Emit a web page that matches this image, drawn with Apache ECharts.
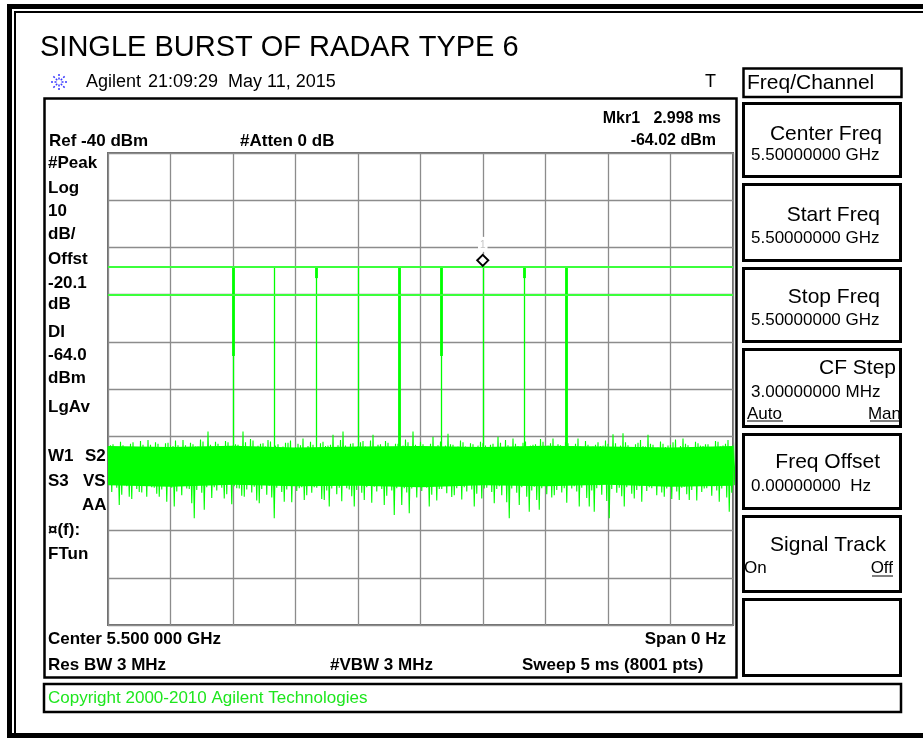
<!DOCTYPE html>
<html>
<head>
<meta charset="utf-8">
<title>Single burst of radar type 6</title>
<script src="https://cdn.jsdelivr.net/npm/echarts@6/dist/echarts.min.js"></script>
<style>
  html, body { margin: 0; padding: 0; background: #fff; }
  #chart { width: 923px; height: 738px; }
</style>
</head>
<body>
<div id="chart"></div>
<script>
// zero span sweep, 5 ms, Ref -40 dBm, 10 dB/div
const sweepMs = 5;
const xStep = 0.5;          // ms per division
const yMin = -140, yMax = -40, yStep = 10;

const displayLine = -64.0;   // DI
const levelLine = -70.0;
const marker = [2.998, -64.02];

// pulses of the burst (ms) and where the trace tops out
const pulseTimes = [1.0, 1.333, 1.667, 2.0, 2.333, 2.667, 2.998, 3.333, 3.667];
const pulsePeaks = [-64.3, -64.2, -64.3, -64.2, -64.1, -64.2, -64.02, -64.3, -64.2];
// thick (double) part of each pulse, from peak down to this level
const pulseThickTo = [-83.0, null, -66.5, null, -103.0, -83.0, null, -66.5, -103.0];
const pulseFoot = -103.0;

// noise trace, read in 0.04 ms columns; four samples per column:
// hi at t, lo at t+0.01, hiB at t+0.02, loB at t+0.03
const noiseStep = 0.04;
const noiseHi = [
  -102.2, -101.7, -102.6, -101.9, -102.4, -101.3, -102.8, -101.8, -100.8, -102.3,
  -101.6, -102.9, -101.4, -102.1, -101.9, -100.8, -102.5, -101.7, -102.2, -101.1,
  -99.0, -102.4, -101.6, -102.7, -101.3, -102.0, -101.8, -99.0, -102.3, -100.9,
  -102.0, -101.5, -100.8, -102.6, -101.7, -102.2, -101.4, -102.8, -101.6, -100.5,
  -102.1, -101.8, -102.5, -101.2, -102.0, -99.7, -101.9, -99.0, -102.4, -101.5,
  -102.1, -101.0, -102.6, -99.7, -101.8, -102.3, -101.4, -102.7, -101.6, -102.0,
  -101.3, -99.0, -102.2, -101.7, -102.5, -100.1, -101.9, -102.4, -99.5, -101.8,
  -102.2, -101.3, -102.6, -101.7, -102.0, -101.5, -102.8, -101.6, -100.1, -102.3,
  -101.9, -100.5, -102.1, -101.4, -102.6, -101.8, -102.3, -101.2, -102.0, -100.5,
  -101.7, -102.4, -101.5, -102.1, -100.5, -102.6, -101.8, -102.2, -101.3, -102.0,
  -101.6, -99.6, -102.3, -99.4, -101.9, -102.5, -101.4, -102.1, -99.7, -101.8,
  -102.4, -101.6, -102.0, -101.3, -102.7, -100.5, -101.9, -102.3, -101.5, -102.1,
  -101.7, -102.5, -101.2, -102.0, -100.8, -101.9
];
const noiseLo = [
  -110.2, -109.6, -114.6, -110.4, -112.8, -109.9, -111.8, -110.3, -109.8, -110.9,
  -112.8, -110.1, -109.7, -114.9, -110.5, -110.0, -111.2, -117.4, -110.3, -115.6,
  -109.9, -110.8, -110.2, -113.2, -109.8, -110.6, -111.1, -112.8, -110.0, -110.7,
  -114.2, -109.9, -110.5, -117.4, -110.2, -113.9, -110.4, -109.7, -111.0, -113.5,
  -110.3, -110.8, -109.9, -113.5, -114.9, -110.2, -110.9, -109.8, -111.3, -114.9,
  -110.4, -113.5, -110.1, -110.7, -109.9, -114.6, -110.5, -116.7, -110.2, -111.0,
  -116.3, -110.1, -109.8, -110.6, -114.9, -110.3, -111.2, -109.9, -110.5, -112.5,
  -110.1, -110.8, -109.7, -114.9, -110.4, -111.1, -110.0, -114.2, -110.6, -109.9,
  -117.4, -110.3, -114.6, -110.1, -116.0, -110.7, -115.6, -110.2, -109.8, -112.5,
  -110.5, -111.0, -109.9, -110.6, -114.9, -110.2, -114.9, -116.0, -110.4, -109.8,
  -117.4, -110.3, -110.9, -114.9, -110.1, -113.2, -110.6, -109.9, -110.8, -110.2,
  -109.7, -112.8, -110.5, -110.0, -113.5, -110.7, -113.5, -110.2, -109.9, -111.1,
  -110.3, -110.6, -113.9, -110.0, -116.0, -110.4
];
const noiseHiB = [
  -101.9, -102.5, -101.2, -102.8, -101.6, -102.3, -101.0, -102.4, -101.8, -101.3,
  -102.6, -101.5, -102.0, -100.9, -102.7, -101.9, -101.4, -102.2, -100.7, -102.5,
  -101.8, -101.2, -102.6, -101.0, -102.3, -101.7, -102.1, -101.3, -100.6, -102.4,
  -101.6, -102.2, -101.1, -102.0, -102.6, -101.4, -100.9, -102.3, -101.9, -102.5,
  -101.2, -102.6, -101.5, -102.1, -101.8, -102.4, -100.8, -102.0, -101.6, -102.7,
  -101.3, -102.2, -100.9, -102.5, -101.7, -101.0, -102.4, -101.6, -102.1, -100.7,
  -102.5, -101.8, -101.2, -102.3, -101.6, -102.6, -101.1, -102.0, -101.7, -102.4,
  -100.9, -102.2, -101.5, -102.6, -101.2, -102.0, -101.8, -102.5, -101.4, -100.8,
  -102.3, -101.6, -102.6, -101.1, -102.0, -101.7, -100.6, -102.4, -101.5, -102.1,
  -101.9, -101.2, -102.5, -101.6, -102.2, -101.0, -102.6, -101.8, -102.1, -100.9,
  -102.4, -101.5, -102.0, -101.3, -102.6, -101.7, -100.8, -102.2, -101.6, -102.5,
  -101.1, -102.3, -101.8, -100.7, -102.1, -101.6, -102.5, -101.2, -102.0, -101.7,
  -102.4, -101.0, -102.2, -101.6, -102.5, -101.3
];
const noiseLoB = [
  -111.8, -110.9, -112.4, -110.6, -113.3, -111.2, -111.9, -112.8, -110.8, -112.2,
  -111.3, -113.9, -110.9, -111.7, -112.5, -111.1, -114.2, -111.4, -112.0, -110.8,
  -113.1, -111.5, -110.9, -112.3, -114.4, -111.0, -112.6, -111.3, -111.9, -113.6,
  -111.2, -112.4, -113.0, -110.9, -111.8, -111.3, -114.0, -111.6, -110.8, -112.5,
  -112.0, -110.9, -113.3, -111.5, -111.1, -112.3, -113.8, -111.0, -112.7, -111.4,
  -112.0, -110.8, -114.1, -111.7, -111.2, -112.6, -111.5, -111.0, -114.6, -111.9,
  -111.1, -113.0, -111.6, -110.9, -112.4, -113.6, -111.2, -112.1, -112.9, -111.0,
  -113.4, -111.7, -111.3, -112.2, -113.2, -110.9, -111.8, -111.2, -112.5, -114.0,
  -111.1, -112.0, -110.8, -112.8, -111.5, -113.5, -111.0, -112.3, -113.0, -111.4,
  -111.9, -114.1, -111.1, -111.7, -110.9, -113.1, -111.5, -111.0, -112.4, -113.7,
  -111.2, -112.0, -112.7, -110.8, -112.2, -111.4, -113.9, -111.6, -111.0, -112.5,
  -111.9, -111.1, -113.3, -111.7, -110.9, -112.3, -111.4, -113.6, -111.8, -111.0,
  -112.6, -111.5, -111.1, -113.0, -112.0, -111.2
];

// solid core of the noise band, every 0.5 ms
const coreStep = 0.5;
const coreTop = [-102.1, -102.3, -102.0, -102.4, -102.2, -102.1, -102.3, -102.0, -102.2, -102.4, -102.1];
const coreBot = [-110.4, -110.7, -110.3, -110.6, -110.5, -110.8, -110.4, -110.6, -110.3, -110.7, -110.5];

const FONT = "'Liberation Sans', Arial, sans-serif";
const GREEN = '#00ff00';
const LINE_GREEN = '#3cff3c';

const chart = echarts.init(document.getElementById('chart'));

// trace points, in sweep order
const tracePts = [];
noiseHi.forEach((v, i) => {
  const t = i * noiseStep;
  tracePts.push([t, v]);
  tracePts.push([t + noiseStep * 0.25, noiseLo[i]]);
  tracePts.push([t + noiseStep * 0.5, noiseHiB[i]]);
  tracePts.push([t + noiseStep * 0.75, noiseLoB[i]]);
});
const coreData = coreTop.map((v, i) => [i * coreStep, v, coreBot[i]]);

const pulseLines = [];
pulseTimes.forEach((t, k) => {
  pulseLines.push([{ coord: [t, pulseFoot], lineStyle: { width: 1.3 } }, { coord: [t, pulsePeaks[k]] }]);
  if (pulseThickTo[k] !== null) {
    pulseLines.push([{ coord: [t, pulseThickTo[k]], lineStyle: { width: 2.8 } }, { coord: [t, pulsePeaks[k]] }]);
  }
});

// helpers for the instrument screen decorations
function txt(x, y, s, size, o) {
  o = o || {};
  return {
    type: 'text', x: x, y: y, silent: true, z: 10,
    style: {
      text: s,
      font: (o.bold ? 'bold ' : '') + size + 'px ' + FONT,
      fill: o.color || '#000',
      textAlign: o.align || 'left',
      textVerticalAlign: 'middle'
    }
  };
}
function box(x, y, w, h, lw) {
  return { type: 'rect', silent: true, shape: { x: x, y: y, width: w, height: h },
    style: { fill: 'none', stroke: '#000', lineWidth: lw } };
}
function seg(x1, y1, x2, y2, lw, color, dash) {
  return { type: 'line', silent: true, shape: { x1: x1, y1: y1, x2: x2, y2: y2 },
    style: { stroke: color || '#000', lineWidth: lw, lineDash: dash || null } };
}

const graphics = [];
// outer frame
graphics.push(seg(7, 6.5, 923, 6.5, 5));
graphics.push(seg(14, 12, 923, 12, 2));
graphics.push(seg(9.5, 4, 9.5, 738, 5));
graphics.push(seg(15, 11, 15, 736, 2));
graphics.push(seg(7, 735.5, 923, 735.5, 5));

// title and header
graphics.push(txt(40, 48, 'SINGLE BURST OF RADAR TYPE 6', 29));
// agilent spark logo
const lc = [59, 82];
[[0, -1], [0.7, -0.7], [1, 0], [0.7, 0.7], [0, 1], [-0.7, 0.7], [-1, 0], [-0.7, -0.7]].forEach(d => {
  graphics.push(seg(lc[0] + d[0] * 2.5, lc[1] + d[1] * 2.5, lc[0] + d[0] * 9, lc[1] + d[1] * 9, 1.5, '#3a3aff', [2, 1.5]));
});
graphics.push(txt(86, 82, 'Agilent', 18));
graphics.push(txt(148, 82, '21:09:29  May 11, 2015', 18));
graphics.push(txt(705, 82, 'T', 18));

// display frame
graphics.push(box(44.5, 98.5, 692, 579, 2.5));
graphics.push(txt(721, 119, 'Mkr1   2.998 ms', 16, { bold: true, align: 'right' }));
graphics.push(txt(49, 141, 'Ref -40 dBm', 17, { bold: true }));
graphics.push(txt(240, 141, '#Atten 0 dB', 17, { bold: true }));
graphics.push(txt(716, 141, '-64.02 dBm', 16, { bold: true, align: 'right' }));

const leftLabels = [['#Peak', 163], ['Log', 188], ['10', 211], ['dB/', 234], ['Offst', 259], ['-20.1', 283],
  ['dB', 304], ['DI', 332], ['-64.0', 355], ['dBm', 378], ['LgAv', 407], ['W1', 456], ['S3', 481],
  ['\u00a4(f):', 530], ['FTun', 554]];
leftLabels.forEach(l => graphics.push(txt(48, l[1], l[0], 17, { bold: true })));
graphics.push(txt(85, 456, 'S2', 17, { bold: true }));
graphics.push(txt(83, 481, 'VS', 17, { bold: true }));
graphics.push(txt(82, 505, 'AA', 17, { bold: true }));

graphics.push(txt(48, 639, 'Center 5.500 000 GHz', 17, { bold: true }));
graphics.push(txt(726, 639, 'Span 0 Hz', 17, { bold: true, align: 'right' }));
graphics.push(txt(48, 665, 'Res BW 3 MHz', 17, { bold: true }));
graphics.push(txt(330, 665, '#VBW 3 MHz', 17, { bold: true }));
graphics.push(txt(522, 665, 'Sweep 5 ms (8001 pts)', 17, { bold: true }));

// copyright strip
graphics.push(box(44, 684, 857, 28, 2.5));
graphics.push(txt(48, 698, 'Copyright 2000-2010 Agilent Technologies', 17, { color: '#1ee61e' }));

// softkey panel
graphics.push(box(743.5, 68.5, 158, 28.5, 2.5));
graphics.push(txt(747, 83, 'Freq/Channel', 21));
const keys = [
  [102, 178, 'Center Freq', 882, 134, '5.50000000 GHz', 155],
  [183, 262, 'Start Freq', 880, 215, '5.50000000 GHz', 238],
  [267, 343, 'Stop Freq', 880, 297, '5.50000000 GHz', 320],
  [348, 428, 'CF Step', 896, 368, '3.00000000 MHz', 392],
  [433, 510, 'Freq Offset', 880, 462, '0.00000000  Hz', 486],
  [515, 593, 'Signal Track', 886, 545, null, 0],
  [598, 677, null, 0, 0, null, 0]
];
keys.forEach(k => {
  graphics.push(box(743.5, k[0] + 1.5, 157, k[1] - k[0] - 3, 3));
  if (k[2]) graphics.push(txt(k[3], k[4], k[2], 21, { align: 'right' }));
  if (k[5]) graphics.push(txt(751, k[6], k[5], 17));
});
graphics.push(txt(747, 414, 'Auto', 17));
graphics.push(seg(747, 421, 783, 421, 1));
graphics.push(txt(901, 414, 'Man', 17, { align: 'right' }));
graphics.push(seg(870, 421, 901, 421, 1));
graphics.push(txt(744, 568, 'On', 17));
graphics.push(txt(893, 568, 'Off', 17, { align: 'right' }));
graphics.push(seg(872, 576, 893, 576, 1));

const option = {
  animation: false,
  backgroundColor: '#fff',
  grid: {
    left: 108, top: 153, width: 625, height: 472,
    show: true, borderColor: '#6e6e6e', borderWidth: 2, backgroundColor: 'transparent'
  },
  xAxis: {
    type: 'value', min: 0, max: sweepMs, interval: xStep,
    axisLine: { show: false }, axisTick: { show: false }, axisLabel: { show: false },
    splitLine: { show: true, lineStyle: { color: '#8c8c8c', width: 1.3 } }
  },
  yAxis: {
    type: 'value', min: yMin, max: yMax, interval: yStep,
    axisLine: { show: false }, axisTick: { show: false }, axisLabel: { show: false },
    splitLine: { show: true, lineStyle: { color: '#8c8c8c', width: 1.3 } }
  },
  graphic: graphics,
  series: [
    {
      // solid middle of the noise band, drawn as one polygon through the core arrays
      name: 'core', type: 'custom', data: coreData, silent: true, z: 3,
      renderItem: function (params, api) {
        if (params.dataIndex !== 0) return null;
        const pts = [];
        coreData.forEach(d => pts.push(api.coord([d[0], d[1]])));
        for (let i = coreData.length - 1; i >= 0; i--) pts.push(api.coord([coreData[i][0], coreData[i][2]]));
        return { type: 'polygon', shape: { points: pts }, style: { fill: GREEN } };
      }
    },
    {
      name: 'trace', type: 'line', data: tracePts, symbol: 'none', silent: true, z: 4,
      lineStyle: { color: GREEN, width: 1.1 }
    },
    {
      name: 'pulses', type: 'line', data: [], silent: true, z: 5,
      markLine: {
        silent: true, symbol: ['none', 'none'], animation: false,
        label: { show: false },
        lineStyle: { color: GREEN, type: 'solid', width: 1.3 },
        data: pulseLines
      }
    },
    {
      name: 'lines', type: 'line', data: [], silent: true, z: 6,
      markLine: {
        silent: true, symbol: ['none', 'none'], animation: false,
        label: { show: false },
        lineStyle: { color: LINE_GREEN, type: 'solid', width: 2 },
        data: [{ yAxis: displayLine }, { yAxis: levelLine }]
      },
      markPoint: {
        silent: true, animation: false,
        data: [{
          coord: marker, symbol: 'diamond', symbolSize: 11, symbolOffset: [0, -6],
          itemStyle: { color: '#fff', borderColor: '#000', borderWidth: 2 },
          label: {
            show: true, formatter: '1', position: 'top', distance: 2,
            color: '#c4c4c4', backgroundColor: '#fff', fontSize: 10, fontFamily: FONT,
            padding: [3, 2, 2, 2]
          }
        }]
      }
    }
  ]
};
chart.setOption(option);
</script>
</body>
</html>
